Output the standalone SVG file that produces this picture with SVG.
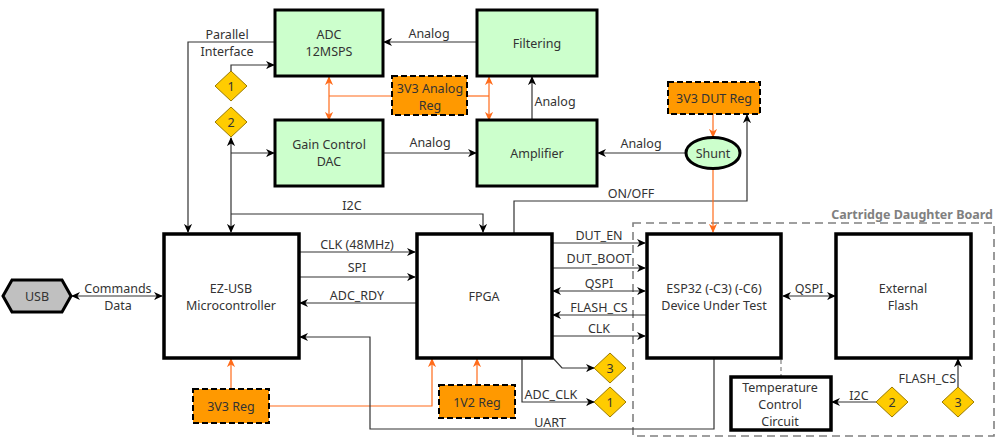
<svg xmlns="http://www.w3.org/2000/svg" width="1000" height="445" viewBox="0 0 1000 445">
<style>
text{font-family:"Noto Sans","Open Sans",sans-serif;font-size:12.5px;fill:#333;text-anchor:middle;dominant-baseline:central}
.g{fill:#ccffcc;stroke:#000;stroke-width:3}
.w{fill:#fff;stroke:#000;stroke-width:3.5}
.reg{fill:#ff9900;stroke:#000;stroke-width:2;stroke-dasharray:6 3}
.dia{fill:#ffcc00;stroke:#9a7a00;stroke-width:1}
.l{fill:none;stroke:#333;stroke-width:1.2}
.o{fill:none;stroke:#ff6b1a;stroke-width:1.2}
.a{marker-end:url(#ak)}
.ab{marker-end:url(#ak);marker-start:url(#ak)}
.oa{marker-end:url(#ao)}
.oab{marker-end:url(#ao);marker-start:url(#ao)}
</style>
<defs>
<marker id="ak" viewBox="0 0 10 10" refX="9" refY="5" markerWidth="9" markerHeight="9" markerUnits="userSpaceOnUse" orient="auto-start-reverse"><path d="M0,0.5 L10,5 L0,9.5 L3,5 z" fill="#000"/></marker>
<marker id="ao" viewBox="0 0 10 10" refX="9" refY="5" markerWidth="9" markerHeight="9" markerUnits="userSpaceOnUse" orient="auto-start-reverse"><path d="M0,0.5 L10,5 L0,9.5 L3,5 z" fill="#ff6b1a"/></marker>
</defs>

<g id="board">
<rect x="633" y="223" width="361" height="213" fill="none" stroke="#808080" stroke-width="1.6" stroke-dasharray="8 5"/>
<text x="993" y="214" style="text-anchor:end;font-weight:bold;fill:#808080">Cartridge Daughter Board</text>
</g>

<g id="connectors">
<path class="l a" d="M275,42 L188,42 L188,232"/>
<text x="227" y="34">Parallel</text>
<text x="227" y="51">Interface</text>
<path class="l a" d="M231,71 L231,65 L274,65"/>
<path class="l ab" d="M231,138 L231,232"/>
<path class="l a" d="M231,153 L274,153"/>
<path class="l a" d="M231,214 L483,214 L483,232"/>
<text x="352" y="205">I2C</text>
<path class="l a" d="M477,42 L384,42"/>
<text x="429" y="33">Analog</text>
<path class="l a" d="M383,153 L476,153"/>
<text x="430" y="142">Analog</text>
<path class="l a" d="M532,120 L532,77"/>
<text x="555" y="101">Analog</text>
<path class="l a" d="M686,153 L598,153"/>
<text x="641" y="143">Analog</text>
<path class="l a" d="M514,233 L514,201 L747,201 L747,115"/>
<text x="631" y="193">ON/OFF</text>
<path class="o" d="M392,96 L329,96"/>
<path class="o oab" d="M329,77 L329,120"/>
<path class="o" d="M467,96 L489,96"/>
<path class="o oab" d="M489,77 L489,120"/>
<path class="o oa" d="M713,114 L713,137"/>
<path class="o oa" d="M713,168 L713,232"/>
<path class="o oa" d="M231,389 L231,359"/>
<path class="o oa" d="M269,406 L432,406 L432,359"/>
<path class="o oa" d="M477,385 L477,359"/>
<path class="l ab" d="M72,296 L162,296"/>
<text x="118" y="288">Commands</text>
<text x="118" y="305">Data</text>
<path class="l a" d="M299,252 L415,252"/>
<text x="357" y="244">CLK (48MHz)</text>
<path class="l a" d="M299,277 L415,277"/>
<text x="357" y="267">SPI</text>
<path class="l a" d="M417,303 L300,303"/>
<text x="357" y="295">ADC_RDY</text>
<path class="l a" d="M714,359 L714,429 L370,429 L370,337 L300,337"/>
<text x="550" y="422">UART</text>
<path class="l a" d="M552,243 L645,243"/>
<text x="599" y="235">DUT_EN</text>
<path class="l a" d="M552,268 L645,268"/>
<text x="599" y="258">DUT_BOOT</text>
<path class="l ab" d="M553,291 L645,291"/>
<text x="599" y="283">QSPI</text>
<path class="l a" d="M646,315 L553,315"/>
<text x="599" y="307">FLASH_CS</text>
<path class="l a" d="M552,336 L645,336"/>
<text x="599" y="328">CLK</text>
<path class="l a" d="M553,358 L562,368 L594,368"/>
<path class="l a" d="M522,359 L522,402 L594,402"/>
<text x="551" y="394">ADC_CLK</text>
<path class="l ab" d="M783,296 L835,296"/>
<text x="809" y="288">QSPI</text>
<path d="M781,360 L781,376" fill="none" stroke="#808080" stroke-width="1.2" stroke-dasharray="4 3"/>
<path class="l a" d="M876,402 L832,402"/>
<text x="859" y="395">I2C</text>
<path class="l a" d="M958,387 L958,359"/>
<text x="956" y="378" style="text-anchor:end">FLASH_CS</text>
</g>

<g id="adc"><rect class="g" x="275" y="10" width="108" height="66"/><text x="329" y="34">ADC</text><text x="329" y="51">12MSPS</text></g>
<g id="filtering"><rect class="g" x="477" y="10" width="120" height="66"/><text x="537" y="43">Filtering</text></g>
<g id="dac"><rect class="g" x="275" y="120" width="108" height="66"/><text x="329" y="144">Gain Control</text><text x="329" y="161">DAC</text></g>
<g id="amplifier"><rect class="g" x="477" y="120" width="120" height="66"/><text x="537" y="153">Amplifier</text></g>
<g id="analog-reg"><rect class="reg" x="392" y="76" width="75" height="39"/><text x="430" y="88">3V3 Analog</text><text x="430" y="105">Reg</text></g>
<g id="dut-reg"><rect class="reg" x="668" y="82" width="92" height="32"/><text x="714" y="98">3V3 DUT Reg</text></g>
<g id="shunt"><ellipse cx="713" cy="153" rx="27" ry="15.5" fill="#ccffcc" stroke="#000" stroke-width="3"/><text x="713" y="153">Shunt</text></g>
<g id="d1a"><polygon class="dia" points="231,71 247,86 231,101 215,86"/><text x="231" y="86">1</text></g>
<g id="d2a"><polygon class="dia" points="231,107 247,122 231,137 215,122"/><text x="231" y="122">2</text></g>
<g id="usb"><polygon points="3,296 12,280 62,280 71,296 62,312 12,312" fill="#c0c0c0" stroke="#000" stroke-width="3"/><text x="37" y="296">USB</text></g>
<g id="ezusb"><rect class="w" x="164" y="234" width="135" height="124"/><text x="231" y="288">EZ-USB</text><text x="231" y="305">Microcontroller</text></g>
<g id="fpga"><rect class="w" x="417" y="234" width="135" height="124"/><text x="484" y="296">FPGA</text></g>
<g id="esp32"><rect class="w" x="647" y="234" width="134" height="124"/><text x="714" y="288">ESP32 (-C3) (-C6)</text><text x="714" y="305">Device Under Test</text></g>
<g id="flash"><rect class="w" x="836" y="234" width="135" height="124"/><text x="903" y="288">External</text><text x="903" y="305">Flash</text></g>
<g id="temp"><rect class="w" x="731" y="377" width="100" height="53"/><text x="780" y="387">Temperature</text><text x="780" y="404">Control</text><text x="780" y="421">Circuit</text></g>
<g id="reg3v3"><rect class="reg" x="193" y="389" width="76" height="34"/><text x="231" y="406">3V3 Reg</text></g>
<g id="reg1v2"><rect class="reg" x="439" y="385" width="76" height="33"/><text x="477" y="402">1V2 Reg</text></g>
<g id="d3b"><polygon class="dia" points="610,353 626,368 610,383 594,368"/><text x="610" y="368">3</text></g>
<g id="d1b"><polygon class="dia" points="610,387 626,402 610,417 594,402"/><text x="610" y="402">1</text></g>
<g id="d2c"><polygon class="dia" points="892,387 908,402 892,417 876,402"/><text x="892" y="402">2</text></g>
<g id="d3c"><polygon class="dia" points="958,387 974,402 958,417 942,402"/><text x="958" y="402">3</text></g>
</svg>
